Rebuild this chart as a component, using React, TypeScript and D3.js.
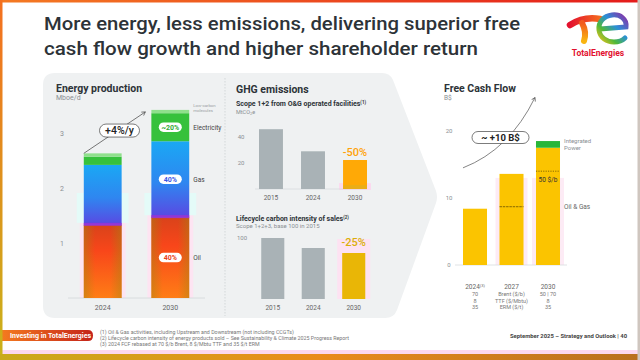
import React from 'react';
import * as d3 from 'd3';

// energy production, Mboe/d
const energyYears = ['2024', '2030'];
const oilProd = [1.33, 1.47];
const gasProd = [1.09, 1.38];
const elecProd = [0.15, 0.51];
const lowCarbonProd = [0.06, 0.06];
const energyTicks = [1, 2, 3];
const energyShareLabels = ['40%', '40%', '~20%'];
const energyKeyLabels = ['Oil', 'Gas', 'Electricity'];
const growthLabel = '+4%/y';

// GHG
const ghgYears = ['2015', '2024', '2030'];
const scope12 = [46, 29, 22.3];
const scope12Ticks = [20, 40];
const lifecycle = [100, 83.6, 75.4];
const lifecycleTicks = [100];

// free cash flow, B$
const fcfYears = ['2024', '2027', '2030'];
const fcfOilGas = [8.4, 13.6, 17.5];
const fcfPower = [0, 0, 1.0];
const fcfPriceMark: (number | null)[] = [null, 8.7, 14.0];
const fcfTicks = [0, 10, 20];
const priceRows = [
  ['70', 'Brent ($/b)', '50 | 70'],
  ['8', 'TTF ($/Mbtu)', '8'],
  ['35', 'ERM ($/t)', '35'],
];

const footnotes = [
  '(1) Oil & Gas activities, including Upstream and Downstream (not including CCGTs)',
  '(2) Lifecycle carbon intensity of energy products sold \u2013 See Sustainability & Climate 2025 Progress Report',
  '(3) 2024 FCF rebased at 70 $/b Brent, 8 $/Mbtu TTF and 35 $/t ERM',
];

const FONT = 'Roboto, "Liberation Sans", Arial, sans-serif';
const TICK = '#8a8f93';
const DARK = '#2d3338';

export default function App() {
  // ---- energy production
  const yE = d3.scaleLinear().domain([0, 3]).range([298, 133]);
  const xE = d3.scaleBand<string>().domain(energyYears).range([50, 223]).paddingInner(0.44).paddingOuter(0.5);
  const bwE = xE.bandwidth();
  const eKeys = ['oil', 'gas', 'elec', 'lcm'];
  const eRows = energyYears.map((year, i) => ({
    year, oil: oilProd[i], gas: gasProd[i], elec: elecProd[i], lcm: lowCarbonProd[i],
  }));
  const eStack = d3.stack<any>().keys(eKeys)(eRows);
  const eFill: Record<string, string> = {
    oil: 'url(#oilGrad)', gas: 'url(#gasGrad)', elec: '#36c13c', lcm: '#8fe08c',
  };
  const pillColor = ['#e8401a', '#3a55e6', '#2eaa34'];
  const total = (i: number) => oilProd[i] + gasProd[i] + elecProd[i] + lowCarbonProd[i];

  const gx1 = xE('2024')!;
  const gy1 = yE(total(0));
  const gx2 = xE('2030')! - 6;
  const gy2 = yE(total(1)) + 2;
  const gpx = gx1 + (gx2 - gx1) * 0.58;
  const gpy = gy1 + (gy2 - gy1) * 0.55;

  // ---- GHG
  const yG = d3.scaleLinear().domain([0, 40]).range([189, 137]);
  const xG = d3.scaleBand<string>().domain(ghgYears).range([238, 388]).paddingInner(0.43).paddingOuter(0.5);
  const yL = d3.scaleLinear().domain([0, 100]).range([299, 238]);
  const xL = d3.scaleBand<string>().domain(ghgYears).range([241, 385.5]).paddingInner(0.43).paddingOuter(0.5);

  // ---- FCF
  const yF = d3.scaleLinear().domain([0, 20]).range([265, 131]);
  const xF = d3.scaleBand<string>().domain(fcfYears).range([444.75, 578.25]).paddingInner(0.342).paddingOuter(0.5);
  const bwF = xF.bandwidth();
  const fRows = fcfYears.map((year, i) => ({ year, og: fcfOilGas[i], power: fcfPower[i] }));
  const fStack = d3.stack<any>().keys(['og', 'power'])(fRows);

  const fStart: [number, number] = [xF('2024')!, yF(14.5)];
  const fEnd: [number, number] = [xF('2030')! - 1, yF(25)];
  const fCtrl: [number, number] = [xF('2027')! + 10, yF(17.2)];
  const fcfArrow = `M${fStart[0]},${fStart[1]} Q${fCtrl[0]},${fCtrl[1]} ${fEnd[0]},${fEnd[1]}`;
  const fTop = yF(fcfOilGas[2] + fcfPower[2]);

  return (
    <svg width={640} height={360} style={{ position: 'absolute', left: 0, top: 0, fontFamily: FONT }}>
      <defs>
        <linearGradient id="oilGrad" x1="0" y1="0" x2="0" y2="1">
          <stop offset="0" stopColor="#d9431a" />
          <stop offset="0.35" stopColor="#f8461a" />
          <stop offset="1" stopColor="#ff7d16" />
        </linearGradient>
        <linearGradient id="oilEdge" x1="0" y1="0" x2="1" y2="0">
          <stop offset="0" stopColor="#a08a10" stopOpacity="0.45" />
          <stop offset="0.3" stopColor="#a08a10" stopOpacity="0" />
          <stop offset="0.7" stopColor="#a08a10" stopOpacity="0" />
          <stop offset="1" stopColor="#a08a10" stopOpacity="0.45" />
        </linearGradient>
        <linearGradient id="gasGrad" x1="0" y1="0" x2="0" y2="1">
          <stop offset="0" stopColor="#1aa8f4" />
          <stop offset="0.55" stopColor="#2f86f0" />
          <stop offset="1" stopColor="#5a48e2" />
        </linearGradient>
        <linearGradient id="topBorder" x1="0" y1="0" x2="1" y2="0">
          <stop offset="0" stopColor="#f47a22" />
          <stop offset="1" stopColor="#e41b1b" />
        </linearGradient>
        <linearGradient id="leftBorder" x1="0" y1="0" x2="0" y2="1">
          <stop offset="0" stopColor="#f47020" />
          <stop offset="1" stopColor="#c9b31a" />
        </linearGradient>
        <linearGradient id="bottomBorder" x1="0" y1="0" x2="1" y2="0">
          <stop offset="0" stopColor="#c9aa1c" />
          <stop offset="0.5" stopColor="#e98c1c" />
          <stop offset="1" stopColor="#b8701e" />
        </linearGradient>
        <linearGradient id="pillGrad" x1="0" y1="0" x2="1" y2="0">
          <stop offset="0" stopColor="#f57c1f" />
          <stop offset="1" stopColor="#c4231a" />
        </linearGradient>
        <linearGradient id="logoT" x1="0" y1="0" x2="1" y2="0">
          <stop offset="0" stopColor="#e3122e" />
          <stop offset="1" stopColor="#f56a1e" />
        </linearGradient>
        <linearGradient id="logoStem" x1="0" y1="0" x2="0" y2="1">
          <stop offset="0" stopColor="#f25a1e" />
          <stop offset="1" stopColor="#f9b510" />
        </linearGradient>
        <linearGradient id="logoE" x1="0" y1="1" x2="1" y2="0">
          <stop offset="0" stopColor="#f2c21a" />
          <stop offset="0.3" stopColor="#4fb83a" />
          <stop offset="0.6" stopColor="#2a8fd8" />
          <stop offset="1" stopColor="#8a2fa8" />
        </linearGradient>
        <marker id="arrowHead" viewBox="0 0 8 8" refX="6" refY="4" markerWidth="7" markerHeight="7" orient="auto">
          <path d="M1,1 L6,4 L1,7" fill="none" stroke="#555" strokeWidth="1" />
        </marker>
      </defs>

      <rect width={640} height={360} fill="#fff" />

      {/* title */}
      <text x={44} y={30} fontSize={19} fontWeight={500} fill={DARK} textLength={476} lengthAdjust="spacingAndGlyphs">
        More energy, less emissions, delivering superior free
      </text>
      <text x={44} y={55} fontSize={19} fontWeight={500} fill={DARK} textLength={434} lengthAdjust="spacingAndGlyphs">
        cash flow growth and higher shareholder return
      </text>

      {/* logo */}
      <g>
        <path d="M570,25 Q584,16 600,19" fill="none" stroke="url(#logoT)" strokeWidth={6.5} strokeLinecap="round" />
        <path d="M582,23 Q587,32 584,41" fill="none" stroke="url(#logoStem)" strokeWidth={6} strokeLinecap="round" />
        <path d="M600,29 L626,27 C627,19 620,14 612,15 C604,16 598,22 599,30 C600,38 607,42 614,42 C619,42 623,40 625,38"
          fill="none" stroke="url(#logoE)" strokeWidth={5} strokeLinecap="round" />
        <text x={598} y={56} textAnchor="middle" fontSize={8.5} fontWeight={700} fill="#e2102e">TotalEnergies</text>
      </g>

      {/* grey panel with chevron */}
      <path d="M55,73 L382,73 Q390,73 393,80 L436,191 Q438,197 436,203 L397,310 Q394,318 385,318 L55,318 Q43,318 43,306 L43,85 Q43,73 55,73 Z"
        fill="#eff1f2" />
      <line x1={225} x2={225} y1={78} y2={316} stroke="#c9cdd0" strokeWidth={0.7} strokeDasharray="1.5,1.5" />

      {/* ===== energy production ===== */}
      <text x={56} y={92} fontSize={10.5} fontWeight={700} fill={DARK}>Energy production</text>
      <text x={56} y={100} fontSize={7} fill={TICK}>Mboe/d</text>
      {energyTicks.map(t => (
        <text key={t} x={62} y={yE(t) + 2.5} fontSize={7} textAnchor="middle" fill={TICK}>{t}</text>
      ))}
      {/* soft glows behind bars */}
      {energyYears.map((yr, i) => (
        <g key={yr}>
          <rect x={xE(yr)! - 4} y={yE(oilProd[i]) - 2} width={bwE + 8} height={yE(0) - yE(oilProd[i]) + 2} fill="#fde4f2" />
          <rect x={xE(yr)! - 7} y={yE(2.0) + 5} width={bwE + 14} height={yE(oilProd[i]) - yE(2.0) - 7} fill="#e4fbf8" />
        </g>
      ))}
      <line x1={xE.range()[0] + 18} x2={xE.range()[1] - 18} y1={yE(0)} y2={yE(0)} stroke="#d8dcde" strokeWidth={1} />
      {eStack.map(s => (
        <g key={s.key}>
          {s.map(d => (
            <rect key={d.data.year} x={xE(d.data.year)} y={yE(d[1])} width={bwE}
              height={yE(d[0]) - yE(d[1])} fill={eFill[s.key]} />
          ))}
          {s.key === 'oil' && s.map(d => (
            <rect key={'e' + d.data.year} x={xE(d.data.year)} y={yE(d[1])} width={bwE}
              height={yE(d[0]) - yE(d[1])} fill="url(#oilEdge)" />
          ))}
        </g>
      ))}
      {energyYears.map((yr, i) => (
        <rect key={'b' + yr} x={xE(yr)} y={yE(oilProd[i]) - 2} width={bwE} height={3} fill="#9a34d6" opacity={0.85} />
      ))}
      {/* share pills on 2030 bar and right-side labels */}
      {eStack.slice(0, 3).map((s, k) => {
        const d = s[1];
        const cy = yE((d[0] + d[1]) / 2);
        const cx = xE('2030')! + bwE / 2;
        return (
          <g key={'p' + s.key}>
            <rect x={cx - 11.5} y={cy - 4.75} width={23} height={9.5} rx={4.75} fill="#fff" />
            <text x={cx} y={cy + 2.5} fontSize={7} fontWeight={700} textAnchor="middle" fill={pillColor[k]}>
              {energyShareLabels[k]}
            </text>
            <text x={xE('2030')! + bwE + 4} y={cy + 2.3} fontSize={6.5} fill="#444">{energyKeyLabels[k]}</text>
          </g>
        );
      })}
      <text x={xE('2030')! + bwE + 4} y={yE(total(1)) - 3} fontSize={4.3} fill="#9a9fa3">Low-carbon</text>
      <text x={xE('2030')! + bwE + 4} y={yE(total(1)) + 2} fontSize={4.3} fill="#9a9fa3">molecules</text>
      {/* growth arrow */}
      <line x1={gx1} y1={gy1} x2={gx2} y2={gy2} stroke="#555" strokeWidth={0.8} markerEnd="url(#arrowHead)" />
      <rect x={gpx - 20} y={gpy - 6.5} width={40} height={13} rx={6.5} fill="#fff" stroke="#444" strokeWidth={0.7} />
      <text x={gpx} y={gpy + 3.6} fontSize={10.5} fontWeight={500} textAnchor="middle" fill="#222">{growthLabel}</text>
      {energyYears.map(yr => (
        <text key={'x' + yr} x={xE(yr)! + bwE / 2} y={310} fontSize={7} textAnchor="middle" fill="#666">{yr}</text>
      ))}

      {/* ===== GHG emissions ===== */}
      <text x={236} y={93} fontSize={10.5} fontWeight={700} fill={DARK}>GHG emissions</text>
      <text x={236} y={106} fontSize={7} fontWeight={700} fill={DARK}>
        Scope 1+2 from O&amp;G operated facilities<tspan fontSize={4.5} dy={-2.5}>(1)</tspan>
      </text>
      <text x={236} y={114} fontSize={5.5} fill={TICK}>MtCO<tspan fontSize={4} dy={1}>2</tspan><tspan dy={-1}>e</tspan></text>
      {scope12Ticks.map(t => (
        <text key={t} x={241} y={yG(t) + 2.3} fontSize={6} textAnchor="middle" fill={TICK}>{t}</text>
      ))}
      <rect x={xG('2030')! - 4} y={yG(3) - 2} width={xG.bandwidth() + 8} height={yG(0) - yG(3) + 3} fill="#fbd9ef" />
      <line x1={255} x2={367} y1={yG(0)} y2={yG(0)} stroke="#d8dcde" strokeWidth={0.8} />
      {ghgYears.map((yr, i) => (
        <rect key={yr} x={xG(yr)} y={yG(scope12[i])} width={xG.bandwidth()} height={yG(0) - yG(scope12[i])}
          fill={yr === '2030' ? '#ffa906' : '#a9b2b6'} />
      ))}
      <rect x={xG('2030')} y={yG(3)} width={xG.bandwidth()} height={yG(0) - yG(3)} fill="#d5b22a" opacity={0.5} />
      <text x={xG('2030')! + xG.bandwidth() / 2} y={yG(scope12[2]) - 4} fontSize={11} fontWeight={500}
        textAnchor="middle" fill="#ffa20a">-50%</text>
      {ghgYears.map(yr => (
        <text key={'g' + yr} x={xG(yr)! + xG.bandwidth() / 2} y={200} fontSize={6.5} textAnchor="middle" fill="#666">{yr}</text>
      ))}

      <text x={236} y={221} fontSize={7} fontWeight={700} fill={DARK}>
        Lifecycle carbon intensity of sales<tspan fontSize={4.5} dy={-2.5}>(2)</tspan>
      </text>
      <text x={236} y={228} fontSize={6} fill={TICK}>Scope 1+2+3, base 100 in 2015</text>
      {lifecycleTicks.map(t => (
        <text key={t} x={242} y={yL(t) + 2.3} fontSize={6} textAnchor="middle" fill={TICK}>{t}</text>
      ))}
      <rect x={xL('2030')! - 5} y={yL(lifecycle[2]) - 14} width={xL.bandwidth() + 10} height={yL(0) - yL(lifecycle[2]) + 14} fill="#fde2f2" />
      {ghgYears.map((yr, i) => (
        <rect key={'l' + yr} x={xL(yr)} y={yL(lifecycle[i])} width={xL.bandwidth()} height={yL(0) - yL(lifecycle[i])}
          fill={yr === '2030' ? '#e9b606' : '#a9b2b6'} />
      ))}
      <text x={xL('2030')! + xL.bandwidth() / 2} y={yL(lifecycle[2]) - 7} fontSize={11} fontWeight={500}
        textAnchor="middle" fill="#d9b00a">-25%</text>
      {ghgYears.map(yr => (
        <text key={'lx' + yr} x={xL(yr)! + xL.bandwidth() / 2} y={310} fontSize={6.5} textAnchor="middle" fill="#666">{yr}</text>
      ))}

      {/* ===== free cash flow ===== */}
      <text x={444} y={92} fontSize={10.5} fontWeight={700} fill={DARK}>Free Cash Flow</text>
      <text x={444} y={100} fontSize={6.5} fill={TICK}>B$</text>
      {fcfTicks.map(t => (
        <text key={t} x={449} y={yF(t) + 2.3} fontSize={6} textAnchor="middle" fill={TICK}>{t}</text>
      ))}
      {['2027', '2030'].map(yr => (
        <rect key={'fg' + yr} x={xF(yr)! - 4} y={yF(13)} width={bwF + 8} height={yF(0) - yF(13)} fill="#fdebf5" />
      ))}
      <line x1={455} x2={567} y1={yF(0)} y2={yF(0)} stroke="#d8dcde" strokeWidth={0.8} />
      {fStack.map(s => (
        <g key={s.key}>
          {s.map(d => (d[1] - d[0] > 0 ? (
            <rect key={d.data.year} x={xF(d.data.year)} y={yF(d[1])} width={bwF} height={yF(d[0]) - yF(d[1])}
              fill={s.key === 'og' ? '#fbc400' : '#28b63a'} />
          ) : null))}
        </g>
      ))}
      {fcfYears.map((yr, i) => fcfPriceMark[i] == null ? null : (
        <line key={'pm' + yr} x1={xF(yr)} x2={xF(yr)! + bwF} y1={yF(fcfPriceMark[i]!)} y2={yF(fcfPriceMark[i]!)}
          stroke="#6b5400" strokeWidth={0.8} strokeDasharray={yr === '2030' ? '1.2,1.2' : '2.5,0.8'} />
      ))}
      <text x={xF('2030')! + bwF / 2} y={yF(fcfPriceMark[2]!) + 11} fontSize={6.5} textAnchor="middle" fill="#333">50 $/b</text>
      <text x={564} y={fTop + 2} fontSize={6} fill="#8a8f93">Integrated</text>
      <text x={564} y={fTop + 8.5} fontSize={6} fill="#8a8f93">Power</text>
      <text x={564} y={yF(8.7) + 2} fontSize={6.5} fill="#666">Oil &amp; Gas</text>
      <path d={fcfArrow} fill="none" stroke="#666" strokeWidth={0.8} markerEnd="url(#arrowHead)" />
      <rect x={472} y={131.5} width={57} height={12} rx={6} fill="#fff" stroke="#444" strokeWidth={0.7} />
      <text x={500.5} y={140.8} fontSize={9.5} fontWeight={700} textAnchor="middle" fill="#222">~ +10 B$</text>
      {fcfYears.map((yr, i) => (
        <g key={'fx' + yr}>
          <text x={xF(yr)! + bwF / 2} y={289} fontSize={6.5} textAnchor="middle" fill="#666">
            {yr}{i === 0 ? <tspan fontSize={4} dy={-2.5}>(3)</tspan> : null}
          </text>
          {priceRows.map((row, r) => (
            <text key={r} x={xF(yr)! + bwF / 2} y={296 + r * 6.7} fontSize={5.5} textAnchor="middle" fill="#777">{row[i]}</text>
          ))}
        </g>
      ))}

      {/* ===== footer ===== */}
      <path d="M0,330 L88,330 Q93,330 93,335.5 Q93,341 88,341 L0,341 Z" fill="url(#pillGrad)" />
      <text x={10} y={338.2} fontSize={7} fontWeight={700} fill="#fff">Investing in TotalEnergies</text>
      {footnotes.map((f, i) => (
        <text key={i} x={100} y={333.5 + i * 6} fontSize={5.3} fill="#777">{f}</text>
      ))}
      <text x={627} y={338} fontSize={5.5} fontWeight={700} textAnchor="end" fill="#444" textLength={117} lengthAdjust="spacingAndGlyphs">
        September 2025 – Strategy and Outlook | 40
      </text>

      {/* frame */}
      <rect x={0} y={350} width={640} height={4} fill="#fcd8ef" />
      <rect x={0} y={0} width={640} height={2.5} fill="url(#topBorder)" />
      <rect x={0} y={0} width={2.5} height={360} fill="url(#leftBorder)" />
      <rect x={0} y={354} width={640} height={6} fill="url(#bottomBorder)" />
      <rect x={637.5} y={0} width={2.5} height={360} fill="#cfc6bf" />
    </svg>
  );
}
